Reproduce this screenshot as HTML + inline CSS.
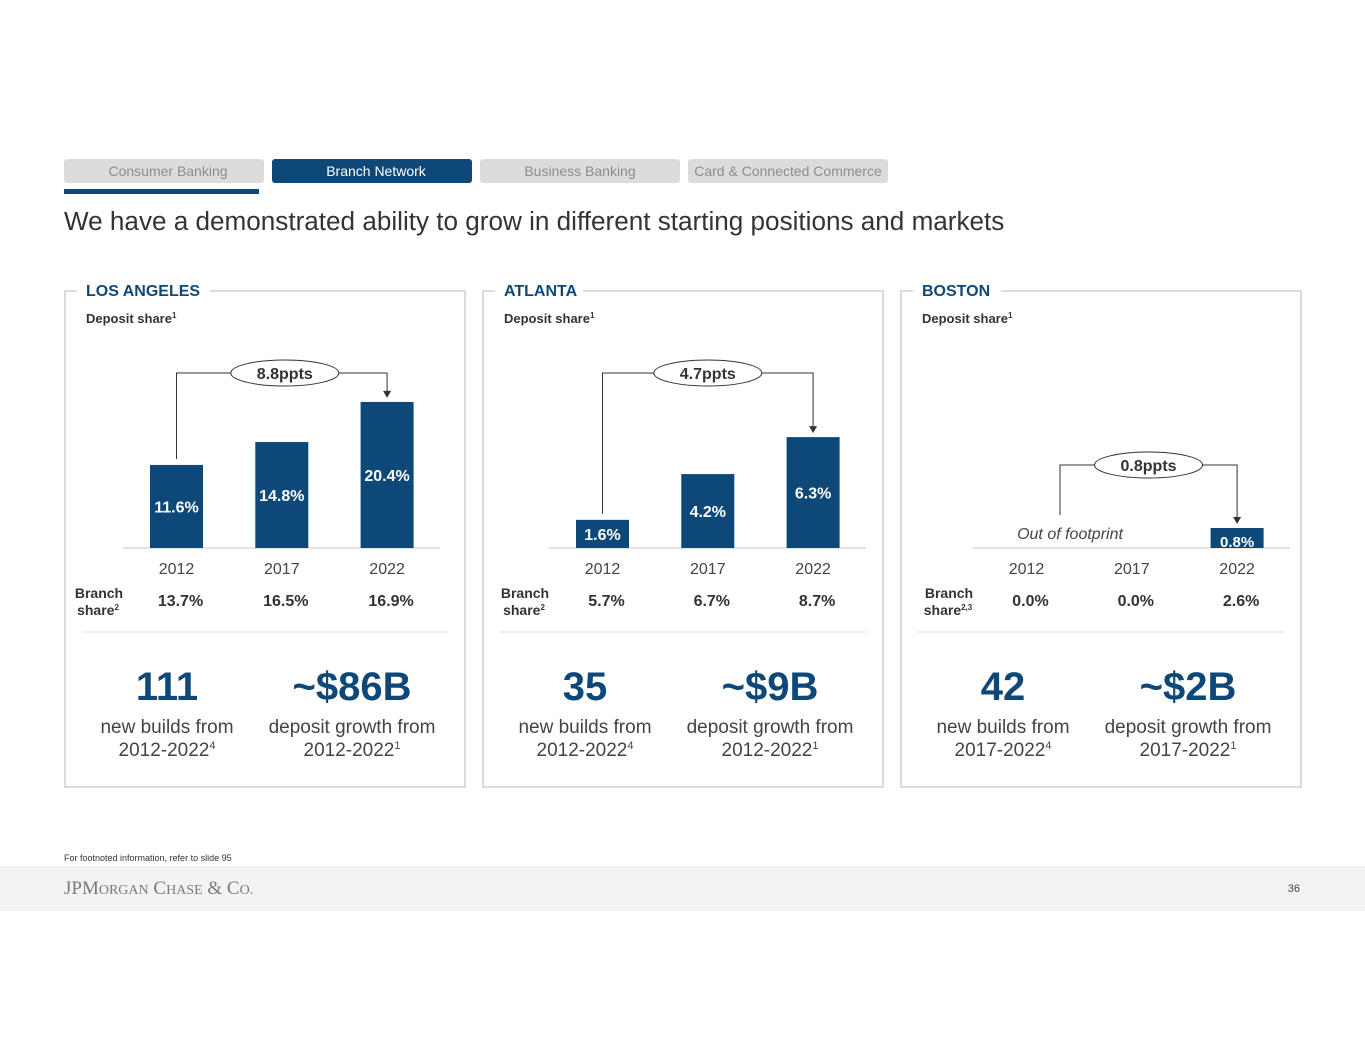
<!DOCTYPE html>
<html><head><meta charset="utf-8"><style>
html,body{margin:0;padding:0;background:#fff;}
body{width:1365px;height:1055px;overflow:hidden;font-family:"Liberation Sans",Arial,sans-serif;}
svg text{font-family:"Liberation Sans",Arial,sans-serif;}
</style></head><body>
<svg id="s" width="1365" height="1055" viewBox="0 0 1365 1055" xmlns="http://www.w3.org/2000/svg">
<g>
<rect x="64" y="159" width="200" height="24" rx="3" fill="#dcdcdc"/>
<text x="168" y="176" font-size="14" fill="#8c8c8c" text-anchor="middle">Consumer Banking</text>
<rect x="64" y="189" width="195" height="5" fill="#0e4878"/>
<rect x="272" y="159" width="200" height="24" rx="3" fill="#0e4878"/>
<text x="376" y="176" font-size="14" fill="#fff" text-anchor="middle">Branch Network</text>
<rect x="480" y="159" width="200" height="24" rx="3" fill="#dcdcdc"/>
<text x="580" y="176" font-size="14" fill="#8c8c8c" text-anchor="middle">Business Banking</text>
<rect x="688" y="159" width="200" height="24" rx="3" fill="#dcdcdc"/>
<text x="788" y="176" font-size="14" fill="#8c8c8c" text-anchor="middle">Card &amp; Connected Commerce</text>
</g>
<text x="64" y="230" font-size="26.1" fill="#333">We have a demonstrated ability to grow in different starting positions and markets</text>
<g id="panels"></g>
<text x="64" y="861" font-size="9" fill="#333">For footnoted information, refer to slide 95</text>
<rect x="0" y="866" width="1365" height="45" fill="#f2f3f5"/>
<text x="64" y="894" font-size="19" fill="#7a7a7a" style="font-family:'Liberation Serif',serif">JPM<tspan font-size="14">ORGAN</tspan> C<tspan font-size="14">HASE</tspan> &amp; C<tspan font-size="14">O.</tspan></text>
<text x="1300" y="892" font-size="11" fill="#444" text-anchor="end">36</text>
</svg>
<script>
const years = ["2012","2017","2022"];
const cities = ["LOS ANGELES","ATLANTA","BOSTON"];
const laDeposit = [11.6, 14.8, 20.4];
const atlDeposit = [1.6, 4.2, 6.3];
const bosDeposit = [null, null, 0.8];
const laBranch = ["13.7%","16.5%","16.9%"];
const atlBranch = ["5.7%","6.7%","8.7%"];
const bosBranch = ["0.0%","0.0%","2.6%"];
const changeLabels = ["8.8ppts","4.7ppts","0.8ppts"];
const buildsValues = ["111","35","42"];
const depositGrowth = ["~$86B","~$9B","~$2B"];
const periodStarts = ["2012","2012","2017"];
const branchSups = ["2","2","2,3"];

const NS="http://www.w3.org/2000/svg";
const root=document.getElementById('panels');
function mk(tag,attrs,parent,txt){const e=document.createElementNS(NS,tag);for(const k in attrs)e.setAttribute(k,attrs[k]);if(txt!==undefined)e.textContent=txt;(parent||root).appendChild(e);return e;}
const NAVY="#0e4878";
const deposits=[laDeposit,atlDeposit,bosDeposit];
const branches=[laBranch,atlBranch,bosBranch];
const boxX=[65,483,901];
const chartX0=[123,549,973];
const pxPer=[7.16,17.6,25];
const baseY=548;

for(let p=0;p<3;p++){
  const g=mk('g',{});
  
  
  const bx=boxX[p];
  const box=mk('path',{d:`M${bx+12} 291 H${bx} V787 H${bx+400} V291 H${bx+ (p==0?145:100)}`,fill:'none',stroke:'#c8c8c8','stroke-width':1.3},g);
  
  
  const h=mk('text',{x:bx+21,y:296,'font-size':16,'font-weight':'bold',fill:NAVY},g,cities[p]);
  
  
  const ds=mk('text',{x:bx+21,y:323,'font-size':13,'font-weight':'bold',fill:'#333'},g,'Deposit share');
  mk('tspan',{'font-size':8,dy:-5},ds,'1');
  
  
  const x0=chartX0[p];
  const cx=i=>x0+53.5+i*105.3;
  const yv=v=>baseY-v*pxPer[p];
  const axis=mk('line',{x1:x0,x2:x0+317,y1:baseY,y2:baseY,stroke:'#c8c8c8','stroke-width':1},g);
  
  
  const vals=deposits[p];
  for(let i=0;i<3;i++){
    const v=vals[i];
    if(v!==null){
      const r=mk('rect',{x:cx(i)-26.5,y:yv(v),width:53,height:baseY-yv(v),fill:NAVY},g);
      
      
      const ty=(p==2)? baseY-1 : (yv(v)+baseY)/2+6;
      const t=mk('text',{x:cx(i),y:ty,'font-size':(p==2?15:16),'font-weight':'bold',fill:'#fff','text-anchor':'middle'},g,v.toFixed(1)+'%');
      
      
    }
    const yt=mk('text',{x:cx(i),y:574,'font-size':16,fill:'#444','text-anchor':'middle'},g,years[i]);
    
    
    const bv=mk('text',{x:cx(i)+4,y:606,'font-size':16,'font-weight':'bold',fill:'#333','text-anchor':'middle'},g,branches[p][i]);
    
    
  }
  const bl=mk('text',{x:x0-24,y:598,'font-size':14,'font-weight':'bold',fill:'#333','text-anchor':'middle'},g,'Branch');
  
  
  const bl2=mk('text',{x:x0-25,y:615,'font-size':14,'font-weight':'bold',fill:'#333','text-anchor':'middle'},g,'share');
  mk('tspan',{'font-size':8,dy:-5},bl2,branchSups[p]);
  
  
  let sx,sy,ly;
  if(p==2){ sx=1060; sy=515; ly=465;
    const of=mk('text',{x:1070,y:539,'font-size':16,'font-style':'italic',fill:'#444','text-anchor':'middle'},g,'Out of footprint');
    
    
  } else { sx=cx(0); sy=yv(vals[0])-6; ly=373; }
  const ex=cx(2), ey=yv(vals[2])-4;
  const c=mk('path',{d:`M${sx} ${sy} V${ly} H${ex} V${ey-6}`,fill:'none',stroke:'#333','stroke-width':1},g);
  
  
  const ar=mk('path',{d:`M${ex-4} ${ey-7} L${ex+4} ${ey-7} L${ex} ${ey} Z`,fill:'#333'},g);
  
  
  const mx=(sx+ex)/2+(p==0?3:0);
  const el=mk('ellipse',{cx:mx,cy:ly,rx:54,ry:13,fill:'#fff',stroke:'#333','stroke-width':1},g);
  
  
  const ct=mk('text',{x:mx,y:ly+6,'font-size':16,'font-weight':'bold',fill:'#333','text-anchor':'middle'},g,changeLabels[p]);
  
  
  const sep=mk('line',{x1:bx+17,x2:bx+383,y1:632,y2:632,stroke:'#dcdcdc','stroke-width':1},g);
  
  
  const k1=bx+102, k2=bx+287;
  const n1=mk('text',{x:k1,y:700,'font-size':40,'font-weight':'bold',fill:NAVY,'text-anchor':'middle'},g,buildsValues[p]);
  
  
  const n2=mk('text',{x:k2,y:700,'font-size':40,'font-weight':'bold',fill:NAVY,'text-anchor':'middle'},g,depositGrowth[p]);
  
  
  const s1=mk('text',{x:k1,y:733,'font-size':19,fill:'#444','text-anchor':'middle'},g,'new builds from');
  
  
  const s2=mk('text',{x:k2,y:733,'font-size':19,fill:'#444','text-anchor':'middle'},g,'deposit growth from');
  
  
  const s3=mk('text',{x:k1,y:756,'font-size':19,fill:'#444','text-anchor':'middle'},g,periodStarts[p]+'-2022');
  mk('tspan',{'font-size':11,dy:-7},s3,'4');
  
  
  const s4=mk('text',{x:k2,y:756,'font-size':19,fill:'#444','text-anchor':'middle'},g,periodStarts[p]+'-2022');
  mk('tspan',{'font-size':11,dy:-7},s4,'1');
  
  
}
</script>
</body></html>
